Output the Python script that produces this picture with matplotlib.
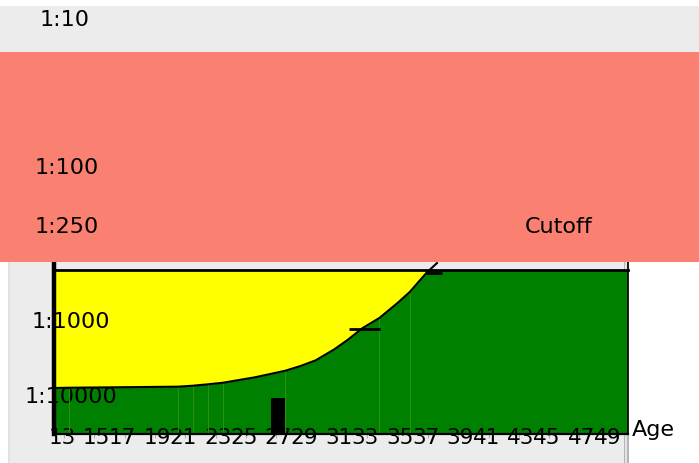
import numpy as np
from matplotlib import pyplot as plt
from matplotlib import patches, transforms

# age-related risk curve (age, 1:N)
curve_age = [12.3, 13.3, 20.5, 21.5, 22.5, 23.5, 25.6, 27.6, 28.6, 29.6, 30.8,
             31.7, 32.7, 33.8, 35.0, 35.8, 36.9, 37.6]
curve_denom = [8070, 8000, 7745, 7520, 7195, 6855, 5805, 4743, 4106, 3450, 2480,
               1848, 1278, 940, 593, 424, 236, 174]
seam_age = [13.3, 20.5, 21.5, 22.5, 23.5, 27.6, 33.8, 35.8]

# patient result bar
bar_age = [27.13]
bar_denom = [11000]

# short horizontal markers (age from, age to, 1:N)
mark_from = [31.8, 36.85]
mark_to = [33.84, 37.9]
mark_denom = [1318, 236]

age_ticks = list(range(13, 50, 2))
y_ticks = [1000, 10000]
y_tick_labels = ["1:1000", "1:10000"]
band_labels = ["1:10", "1:100", "1:250"]
band_denom = [10, 100, 250]

W, H = 699, 463
fig = plt.figure(figsize=(W / 100, H / 100), dpi=100, facecolor='white')


def rect(x0, y0, x1, y1, color, z):
    fig.add_artist(patches.Rectangle((x0 / W, 1 - y1 / H), (x1 - x0) / W, (y1 - y0) / H,
                                     transform=fig.transFigure, facecolor=color,
                                     edgecolor='none', zorder=z))


# page background pieces
rect(10, 262, 623.5, 463, '#ececec', -5)
rect(7.5, 262, 9.5, 463, '#e2e2e2', -5)
rect(623.5, 262, 625, 463, '#b4b4b4', -5)
rect(625, 262, 627, 463, '#e4e4e4', -5)
rect(627, 262, 628.5, 463, '#b4b4b4', -5)
rect(0, 6, 699, 52, '#ececec', -5)
rect(0, 52, 699, 262, '#fa8072', 2)

# main plot
ax = fig.add_axes([54 / W, (H - 434) / H, (628 - 54) / W, (434 - 270) / H], zorder=1)
ax.set_yscale('log')
y_bot, y_top = 10 ** -4.52, 10 ** -2.333
ax.set_ylim(y_bot, y_top)
ax.set_xlim(12.34, 50.2)
ax.set_facecolor('#008000')

ages = np.array(curve_age)
risk = 1.0 / np.array(curve_denom)
ax.fill_between(ages, risk, y_top * 2, color='#ffff00', lw=0, zorder=1)
ax.plot(ages, risk, color='black', lw=1.5, clip_on=False, zorder=4)

seam_top = 10 ** np.interp(seam_age, ages, np.log10(risk))
ax.vlines(seam_age, y_bot, seam_top, color='#2a9010', lw=0.8, zorder=2)

bar_risk = 1.0 / np.array(bar_denom)
ax.bar(bar_age, bar_risk - y_bot, bottom=y_bot, width=0.95, color='black', zorder=3)

ax.hlines(1.0 / np.array(mark_denom), mark_from, mark_to, color='black', lw=2,
          clip_on=False, zorder=5)

for side, lw in [('left', 3.2), ('top', 2), ('right', 1.2), ('bottom', 1.6)]:
    ax.spines[side].set_linewidth(lw)
    ax.spines[side].set_color('black')
    ax.spines[side].set_zorder(6)
spine_top = 10 ** (-3 + 58 / 75)
ax.spines['left'].set_bounds(y_bot, spine_top)
ax.spines['right'].set_bounds(y_bot, spine_top)

ax.set_yticks([1.0 / d for d in y_ticks])
ax.set_yticklabels(y_tick_labels)
ax.yaxis.set_minor_locator(plt.NullLocator())
ax.tick_params(axis='y', length=0, pad=-12.3, labelsize=16)
for lab in ax.get_yticklabels():
    lab.set_ha('center')
    lab.set_zorder(7)

ax.set_xticks(age_ticks)
ax.set_xticklabels([str(a) for a in age_ticks])
ax.tick_params(axis='x', length=3, color='#b0b0b0', pad=-7.4, labelsize=15.5)
for i, lab in enumerate(ax.get_xticklabels()):
    dx = 2 if i % 2 == 1 else -2
    lab.set_transform(lab.get_transform() +
                      transforms.ScaledTranslation(dx / 100, 0, fig.dpi_scale_trans))

fig.text(632 / W, 1 - 436 / H, "Age", fontsize=16, va='baseline', ha='left')

# risk band labels
band = fig.add_axes([0, (H - 262) / H, 1, (262 - 6) / H], zorder=3)
band.set_axis_off()
band.set_yscale('log')
band.set_ylim(10 ** (-2 - 94 / 148), 10 ** (-1 + 14 / 148))
band.set_xlim(0, W)
band_x = [40, 35, 35]
for x, lbl, d in zip(band_x, band_labels, band_denom):
    band.text(x, 1.0 / d, lbl, fontsize=16, va='center', ha='left')
band.text(525, 1.0 / band_denom[-1], "Cutoff", fontsize=16, va='center', ha='left')

fig.savefig('out.png', dpi=100)
